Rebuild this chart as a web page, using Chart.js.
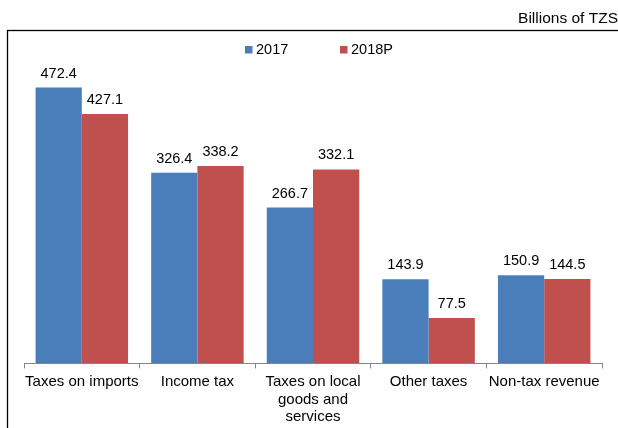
<!DOCTYPE html>
<html>
<head>
<meta charset="utf-8">
<script src="https://cdn.jsdelivr.net/npm/chart.js@4/dist/chart.umd.min.js"></script>
<style>
  html, body { margin: 0; padding: 0; background: #fff; }
  #wrap { width: 618px; height: 428px; position: relative; overflow: hidden; }
</style>
</head>
<body>
<div id="wrap"><canvas id="c" width="618" height="440"></canvas></div>
<script>
// Revenue categories (multi-line labels as arrays)
const categories = [
  ["Taxes on imports"],
  ["Income tax"],
  ["Taxes on local", "goods and", "services"],
  ["Other taxes"],
  ["Non-tax revenue"]
];
const seriesNames = ["2017", "2018P"];
const values2017 = [472.4, 326.4, 266.7, 143.9, 150.9];
const values2018P = [427.1, 338.2, 332.1, 77.5, 144.5];
const unitLabel = "Billions of TZS";

const FONT = "'Liberation Sans', Arial, sans-serif";
const BLUE = "#4A7EBB";
const RED = "#C0504D";
const AXIS = "#868686";

// Outer frame, unit caption, legend and value labels
const decorations = {
  id: "decorations",
  beforeDraw(chart) {
    const ctx = chart.ctx;
    ctx.save();
    ctx.fillStyle = "#fff";
    ctx.fillRect(0, 0, chart.width, chart.height);
    ctx.strokeStyle = "#000";
    ctx.lineWidth = 1.3;
    ctx.strokeRect(7.5, 30.5, 700, 500);
    ctx.fillStyle = "#000";
    ctx.font = "15.5px " + FONT;
    ctx.textAlign = "right";
    ctx.textBaseline = "alphabetic";
    ctx.fillText(unitLabel, 618, 23);
    ctx.restore();
  },
  afterDraw(chart) {
    const ctx = chart.ctx;
    ctx.save();
    // legend
    const colors = [BLUE, RED];
    const xs = [245, 340];
    ctx.font = "14.5px " + FONT;
    ctx.textAlign = "left";
    ctx.textBaseline = "alphabetic";
    seriesNames.forEach((name, i) => {
      ctx.fillStyle = colors[i];
      ctx.fillRect(xs[i], 46, 7.5, 7.5);
      ctx.fillStyle = "#000";
      ctx.fillText(name, xs[i] + 11, 54.3);
    });
    // value labels above bars
    ctx.font = "14.5px " + FONT;
    ctx.textAlign = "center";
    chart.data.datasets.forEach((ds, di) => {
      const meta = chart.getDatasetMeta(di);
      meta.data.forEach((bar, j) => {
        ctx.fillStyle = "#000";
        ctx.fillText(ds.data[j].toFixed(1), bar.x, bar.y - 10);
      });
    });
    ctx.restore();
  }
};

new Chart(document.getElementById("c"), {
  type: "bar",
  data: {
    labels: categories,
    datasets: [
      { label: seriesNames[0], data: values2017, backgroundColor: BLUE, borderWidth: 0 },
      { label: seriesNames[1], data: values2018P, backgroundColor: RED, borderWidth: 0 }
    ]
  },
  options: {
    responsive: false,
    animation: false,
    devicePixelRatio: 1,
    datasets: { bar: { categoryPercentage: 0.8, barPercentage: 1.0 } },
    layout: { padding: { left: 24, right: 16, top: 71.4, bottom: 9 } },
    plugins: {
      legend: { display: false },
      tooltip: { enabled: false },
      title: { display: false }
    },
    scales: {
      x: {
        grid: {
          display: true,
          drawOnChartArea: false,
          drawTicks: true,
          tickLength: 5,
          color: AXIS,
          offset: true
        },
        border: { display: true, color: AXIS, width: 1 },
        ticks: {
          color: "#000",
          font: { family: FONT, size: 15, lineHeight: 1.17 },
          padding: 5,
          maxRotation: 0,
          autoSkip: false
        }
      },
      y: {
        display: false,
        min: 0,
        max: 500
      }
    }
  },
  plugins: [decorations]
});
</script>
</body>
</html>
